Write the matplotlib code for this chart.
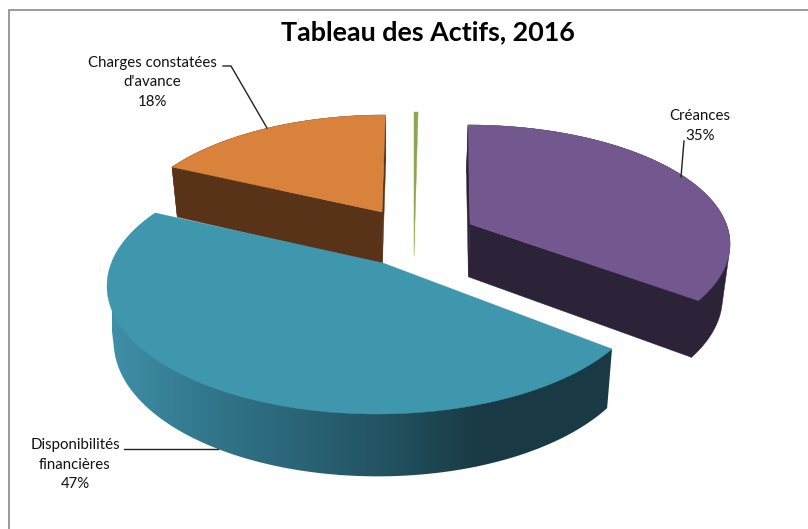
import numpy as np
import matplotlib
matplotlib.use("Agg")
import matplotlib.pyplot as plt
from matplotlib.patches import Polygon
from matplotlib.colors import LinearSegmentedColormap

plt.rcParams['font.family'] = ['Lato', 'DejaVu Sans']

# --- data ---
categories = ["Créances", "Disponibilités\nfinancières", "Charges constatées\nd'avance", "Autres"]
shares = [35, 47, 18, 0.25]
pct_labels = ["35%", "47%", "18%", None]

# --- look: one entry per slice (perspective view of an exploded 3D pie) ---
W, H = 808, 529
centres = [(468, 244), (377, 286), (385, 237), (414, 237)]
radii = [(262, 119), (270, 128), (260, 122), (260, 125)]
apexes = [(470, 224), (383, 263), (382, 212), (414, 256)]
start_deg = [0, 119.5, -55, 0]
warp = [0.94, 1.095, 0.85, 1.0]
top_col = ["#72588e", "#3f97ae", "#d9823b", "#8aa84f"]
wall_col = ["#2d2338", None, "#583318", None]
draw_order = [2, 3, 0, 1]
blue_wall = LinearSegmentedColormap.from_list(
    "w", [(0, "#3f8fa8"), (0.176, "#32788d"), (0.376, "#2a6476"),
          (0.576, "#214f5d"), (0.736, "#193a45"), (1, "#193a45")])

fig = plt.figure(figsize=(W / 100, H / 100), dpi=100, facecolor="white")
ax = fig.add_axes([0, 0, 1, 1])
ax.axis("off")

# chart frame
ax.plot([W, 9, 9], [10, 10, H], color="#8a8a8a", lw=1.2, solid_joinstyle="miter")


def extrude(p):
    """Project the top-face points down to the base of the pie."""
    p = np.asarray(p, float)
    depth = 50 + (p[:, 1] - 167) * 0.05
    return np.column_stack([400 + (p[:, 0] - 400) * 0.977, p[:, 1] + depth])


def hull(points):
    """Convex outline of a set of points (silhouette of the extruded slice)."""
    pts = sorted(map(tuple, points))

    def half(seq):
        out = []
        for q in seq:
            while len(out) > 1 and ((out[-1][0] - out[-2][0]) * (q[1] - out[-2][1])
                                    - (out[-1][1] - out[-2][1]) * (q[0] - out[-2][0])) <= 0:
                out.pop()
            out.append(q)
        return out[:-1]
    return np.array(half(pts) + half(pts[::-1]))


for i in draw_order:
    z = 2 + draw_order.index(i)
    span = shares[i] * 3.6 * warp[i]
    th = np.radians(np.linspace(start_deg[i], start_deg[i] + span, 200))
    arc = np.column_stack([centres[i][0] + radii[i][0] * np.sin(th),
                           centres[i][1] - radii[i][1] * np.cos(th)])
    apex = np.array([apexes[i]], float)
    base = extrude(arc)
    if i != 3:
        wall = hull(np.vstack([arc, base]))
        if wall_col[i]:
            ax.fill(*wall.T, color=wall_col[i], lw=0.3, zorder=z)
            ab = extrude(apex)
            for end in (arc[0:1], arc[-1:]):
                eb = extrude(end)
                ax.fill(*np.vstack([apex, end, eb, ab]).T, color=wall_col[i], lw=0.3, zorder=z)
        else:
            grad = np.linspace(0, 1, 512).reshape(1, -1)
            im = ax.imshow(grad, cmap=blue_wall, extent=(112, 612, 480, 200), aspect="auto", zorder=z)
            im.set_clip_path(Polygon(wall, transform=ax.transData))
    ax.fill(*np.vstack([apex, arc]).T, color=top_col[i], lw=0.3, zorder=z + 0.5)

ax.set_xlim(0, W)
ax.set_ylim(H, 0)

# texts
ax.text(428, 32, "Tableau des Actifs, 2016", ha="center", va="center", fontsize=19.4, fontweight="bold", color="black")
label_pos = [(700, 126), (75, 465), (152, 82)]
for i, (x, y) in enumerate(label_pos):
    ax.text(x, y, categories[i] + "\n" + pct_labels[i], ha="center", va="center",
            fontsize=10.8, color="#111111", linespacing=1.5)

# leader lines
leaders = [([684, 681], [141, 177]), ([124, 218], [449, 449]), ([223, 231, 267], [66, 66, 128])]
for xs, ys in leaders:
    ax.plot(xs, ys, color="#222222", lw=1, zorder=10)

fig.savefig("out.png", dpi=100, facecolor="white")
